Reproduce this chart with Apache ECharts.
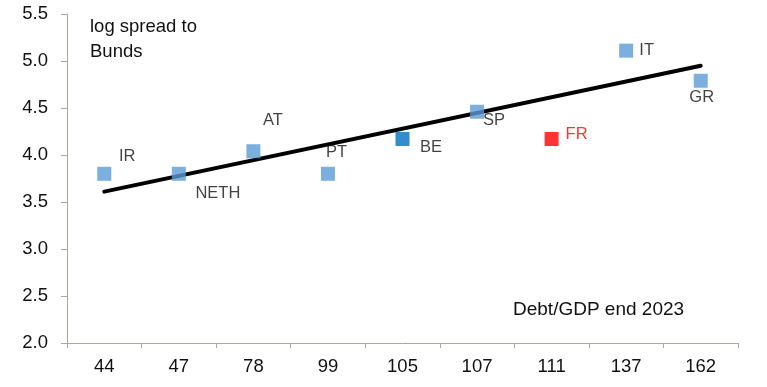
<!DOCTYPE html>
<html><head><meta charset="utf-8">
<script src="https://cdn.jsdelivr.net/npm/echarts@6/dist/echarts.min.js"></script>
<style>html,body{margin:0;padding:0;background:#fff}#c{width:767px;height:387px}</style>
</head><body><div id="c"></div>
<script>
const categories = ['44','47','78','99','105','107','111','137','162'];
const countries = ['IR','NETH','AT','PT','BE','SP','FR','IT','GR'];
const spreads = [3.80, 3.80, 4.04, 3.80, 4.17, 4.46, 4.17, 5.11, 4.79];
const trendStart = 3.61;
const trendEnd = 4.95;

const FONT = "'Liberation Sans','Arial',sans-serif";
const colorFor = {BE:'#0070C0', FR:'#FF0000'};
const labelOffset = {
  IR:[23,-17], NETH:[39,19.5], AT:[19.5,-31], PT:[8.5,-21],
  BE:[28.5,8.5], SP:[17,8.5], FR:[25,-5], IT:[20.5,0], GR:[1,16.5]
};
const pts = countries.map((c,i)=>({
  value:[categories[i], spreads[i]],
  itemStyle:{color: colorFor[c] || '#5B9BD5'},
  label:{show:true, formatter:c, position:'inside', align:'center', verticalAlign:'middle',
    offset:labelOffset[c], color: c==='FR' ? '#FF0000' : '#111', fontSize:16.5, fontFamily:FONT}
}));
const chart = echarts.init(document.getElementById('c'));
chart.setOption({
  animation:false,
  grid:{left:67, right:29, top:14, bottom:44},
  xAxis:{type:'category', data:categories, boundaryGap:true,
    axisLine:{lineStyle:{color:'#ADA796', width:1}},
    axisTick:{show:true, alignWithLabel:false, length:5, lineStyle:{color:'#ADA796'}},
    axisLabel:{color:'#111', fontSize:18.5, fontFamily:FONT, margin:14},
    splitLine:{show:false}},
  yAxis:{type:'value', min:2.0, max:5.5, interval:0.5,
    axisLine:{show:true, lineStyle:{color:'#ADA796'}},
    axisTick:{show:true, length:6, lineStyle:{color:'#ADA796'}},
    axisLabel:{color:'#111', fontSize:18.5, fontFamily:FONT, margin:19, formatter:v=>v.toFixed(1)},
    splitLine:{show:false}},
  series:[
    {type:'line', data:[[categories[0],trendStart],[categories[categories.length-1],trendEnd]],
      symbol:'none', lineStyle:{color:'#000', width:4, cap:'round'}, z:2},
    {type:'scatter', symbol:'rect', symbolSize:14, data:pts, z:3}
  ],
  graphic:[
    {type:'text', left:90, top:14, style:{text:'log spread to\nBunds', fontSize:18.5, lineHeight:25, fontFamily:FONT, fill:'#111'}},
    {type:'text', left:513, top:300, style:{text:'Debt/GDP end 2023', fontSize:19, fontFamily:FONT, fill:'#111'}}
  ]
});
</script></body></html>
